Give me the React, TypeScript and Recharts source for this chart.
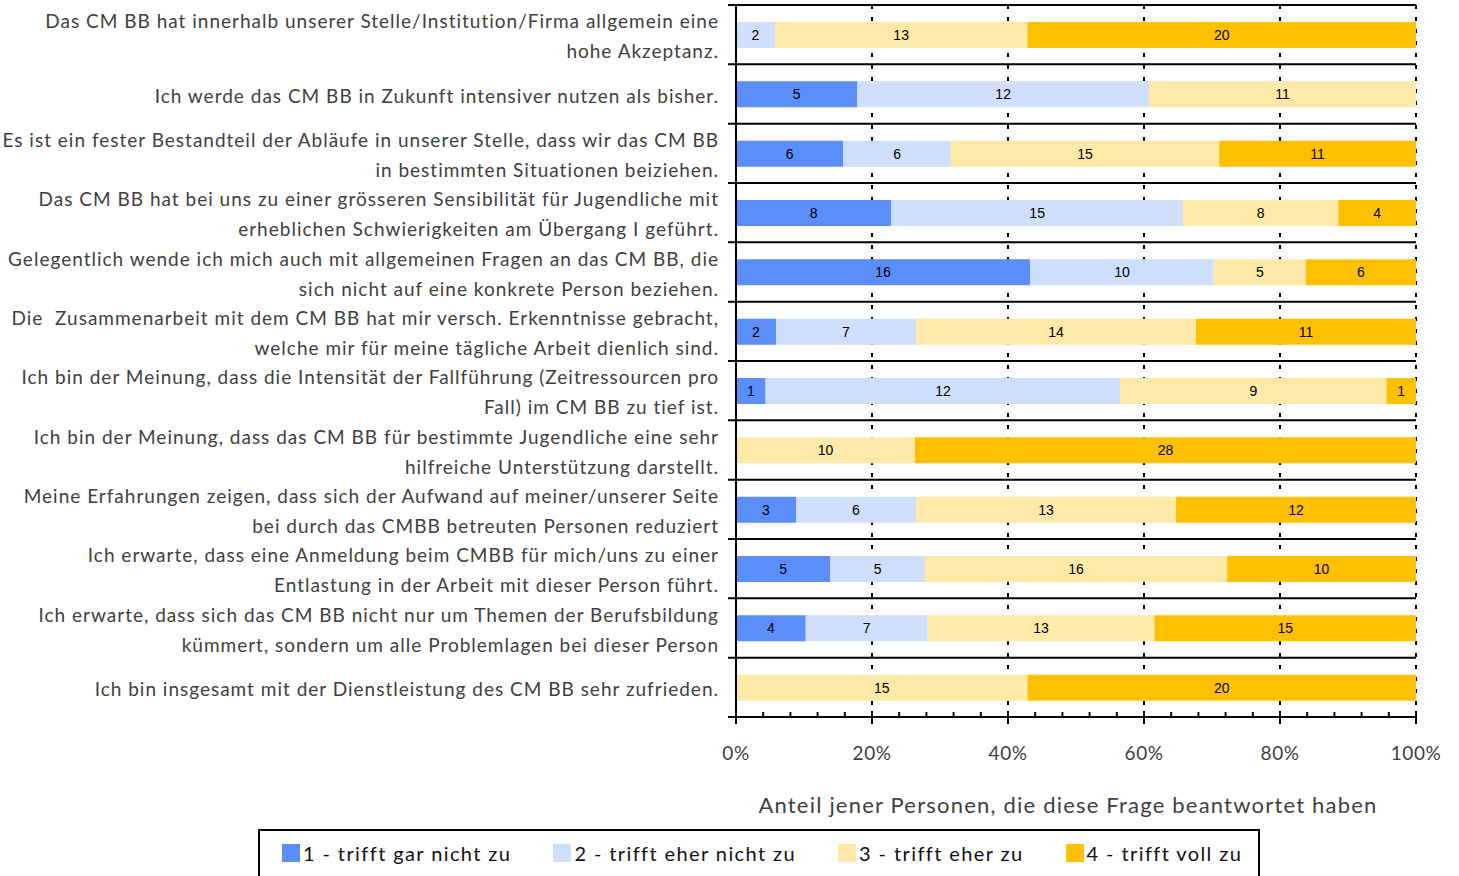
import React from 'react';
import {
  BarChart,
  Bar,
  XAxis,
  YAxis,
  CartesianGrid,
  LabelList,
  Legend
} from 'recharts';

// Aussagen (Zeilenumbruch wie im Original)
const statements = [
  'Das CM BB hat innerhalb unserer Stelle/Institution/Firma allgemein eine\nhohe Akzeptanz.',
  'Ich werde das CM BB in Zukunft intensiver nutzen als bisher.',
  'Es ist ein fester Bestandteil der Abläufe in unserer Stelle, dass wir das CM BB\nin bestimmten Situationen beiziehen.',
  'Das CM BB hat bei uns zu einer grösseren Sensibilität für Jugendliche mit\nerheblichen Schwierigkeiten am Übergang I geführt.',
  'Gelegentlich wende ich mich auch mit allgemeinen Fragen an das CM BB, die\nsich nicht auf eine konkrete Person beziehen.',
  'Die  Zusammenarbeit mit dem CM BB hat mir versch. Erkenntnisse gebracht,\nwelche mir für meine tägliche Arbeit dienlich sind.',
  'Ich bin der Meinung, dass die Intensität der Fallführung (Zeitressourcen pro\nFall) im CM BB zu tief ist.',
  'Ich bin der Meinung, dass das CM BB für bestimmte Jugendliche eine sehr\nhilfreiche Unterstützung darstellt.',
  'Meine Erfahrungen zeigen, dass sich der Aufwand auf meiner/unserer Seite\nbei durch das CMBB betreuten Personen reduziert',
  'Ich erwarte, dass eine Anmeldung beim CMBB für mich/uns zu einer\nEntlastung in der Arbeit mit dieser Person führt.',
  'Ich erwarte, dass sich das CM BB nicht nur um Themen der Berufsbildung\nkümmert, sondern um alle Problemlagen bei dieser Person',
  'Ich bin insgesamt mit der Dienstleistung des CM BB sehr zufrieden.'
];

// Anzahl Antworten je Kategorie
const trifftGarNichtZu = [0, 5, 6, 8, 16, 2, 1, 0, 3, 5, 4, 0];
const trifftEherNichtZu = [2, 12, 6, 15, 10, 7, 12, 0, 6, 5, 7, 0];
const trifftEherZu = [13, 11, 15, 8, 5, 14, 9, 10, 13, 16, 13, 15];
const trifftVollZu = [20, 0, 11, 4, 6, 11, 1, 28, 12, 10, 15, 20];

const seriesNames = [
  '1 - trifft gar nicht zu',
  '2 - trifft eher nicht zu',
  '3 - trifft eher zu',
  '4 - trifft voll zu'
];
const seriesColors = ['#5B8DFB', '#CFDEFA', '#FEE9A8', '#FFC000'];

const xTicks = [0, 0.04, 0.08, 0.12, 0.16, 0.2, 0.24, 0.28, 0.32, 0.36, 0.4, 0.44, 0.48,
  0.52, 0.56, 0.6, 0.64, 0.68, 0.72, 0.76, 0.8, 0.84, 0.88, 0.92, 0.96, 1];
const gridPercents = [0.2, 0.4, 0.6, 0.8, 1];

const chartData = statements.map((name, i) => ({
  name,
  s1: trifftGarNichtZu[i],
  s2: trifftEherNichtZu[i],
  s3: trifftEherZu[i],
  s4: trifftVollZu[i]
}));

const TEXT = '#404040';
const FONT = 'Lato, "Open Sans", sans-serif';

// Beschriftung links, rechtsbündig, ein- oder zweizeilig
const StatementTick = ({ x, y, payload }: any) => {
  const lines: string[] = String(payload.value).split('\n');
  const first = lines.length === 1 ? 1 : -14;
  return (
    <text x={x - 17} y={y} textAnchor="end" fill={TEXT} fontSize={19} fontFamily={FONT} style={{ letterSpacing: 1 }}>
      {lines.map((l, i) => (
        <tspan key={i} x={x - 17} y={y + first + i * 30} dominantBaseline="central" style={{ whiteSpace: 'pre' }}>
          {l}
        </tspan>
      ))}
    </text>
  );
};

const PercentTick = ({ x, y, payload }: any) => {
  const pct = Math.round(payload.value * 100);
  const major = pct % 20 === 0;
  return (
    <g>
      {major ? (
        <line x1={x} x2={x} y1={y - 6} y2={y + 7} stroke="#000" strokeWidth={2} />
      ) : (
        <line x1={x} x2={x} y1={y - 5} y2={y} stroke="#000" strokeWidth={2} />
      )}
      {major && (
        <text x={x} y={y + 35} textAnchor="middle" dominantBaseline="central" fill={TEXT} fontSize={19} fontFamily={FONT} style={{ letterSpacing: 0.5 }}>
          {pct}%
        </text>
      )}
    </g>
  );
};

const LegendBox = () => (
  <div
    style={{
      border: '2px solid #000',
      height: 50,
      boxSizing: 'border-box',
      display: 'flex',
      alignItems: 'center',
      paddingLeft: 22,
      paddingBottom: 2,
      gap: 42,
      fontFamily: FONT,
      fontSize: 20,
      color: '#111',
      letterSpacing: 1.4
    }}
  >
    {seriesNames.map((n, i) => (
      <div key={n} style={{ display: 'flex', alignItems: 'center' }}>
        <span style={{ width: 18, height: 18, background: seriesColors[i], marginRight: 3, display: 'inline-block' }} />
        <span>{n}</span>
      </div>
    ))}
  </div>
);

// Trennlinien zwischen den Zeilen, leicht über die Achse hinaus nach links
const SeparatorLine = (p: any) => (
  <line x1={p.x1 - 8} y1={p.y1} x2={p.x2} y2={p.y2} stroke="#000" strokeWidth={2} />
);

const hideZero = (v: any) => (v ? v : '');

export default function App() {
  return (
    <div style={{ position: 'absolute', left: 0, top: 0, width: 1459, height: 876, overflow: 'hidden', background: '#fff' }}>
      <BarChart
        width={1459}
        height={876}
        data={chartData}
        layout="vertical"
        stackOffset="expand"
        margin={{ top: 5, right: 43, bottom: 0, left: 0 }}
        barSize={26}
      >
        <CartesianGrid
          horizontal={false}
          verticalCoordinatesGenerator={({ offset }: any) => gridPercents.map(p => offset.left + p * offset.width)}
          stroke="#000"
          strokeWidth={2}
          strokeDasharray="4 8"
        />
        <XAxis
          type="number"
          domain={[0, 1]}
          ticks={xTicks}
          interval={0}
          height={159}
          tickSize={0}
          tickMargin={0}
          tickLine={false}
          axisLine={{ stroke: '#000', strokeWidth: 2 }}
          tick={<PercentTick />}
          label={{ value: 'Anteil jener Personen, die diese Frage beantwortet haben', position: 'insideBottom', offset: 63, dx: -8, fill: TEXT, fontSize: 22, fontFamily: FONT, style: { letterSpacing: 1.2 } }}
        />
        <YAxis
          type="category"
          dataKey="name"
          width={736}
          tickSize={0}
          tickMargin={0}
          tickLine={false}
          interval={0}
          axisLine={{ stroke: '#000', strokeWidth: 2 }}
          tick={<StatementTick />}
        />
        {(['s1', 's2', 's3', 's4'] as const).map((k, i) => (
          <Bar key={k} dataKey={k} name={seriesNames[i]} stackId="a" fill={seriesColors[i]} isAnimationActive={false}>
            <LabelList dataKey={k} position="center" formatter={hideZero} fill="#000" fontSize={14} fontFamily='"Liberation Sans Narrow", "Liberation Sans", Arial, sans-serif' />
          </Bar>
        ))}
        <CartesianGrid
          vertical={false}
          horizontalCoordinatesGenerator={({ offset }: any) =>
            statements.concat('').map((_, i) => offset.top + (i * offset.height) / statements.length)
          }
          horizontal={SeparatorLine}
        />
        <Legend
          layout="horizontal"
          verticalAlign="middle"
          align="center"
          wrapperStyle={{ top: 829, left: 258, width: 1002 }}
          content={() => <LegendBox />}
        />
      </BarChart>
    </div>
  );
}
